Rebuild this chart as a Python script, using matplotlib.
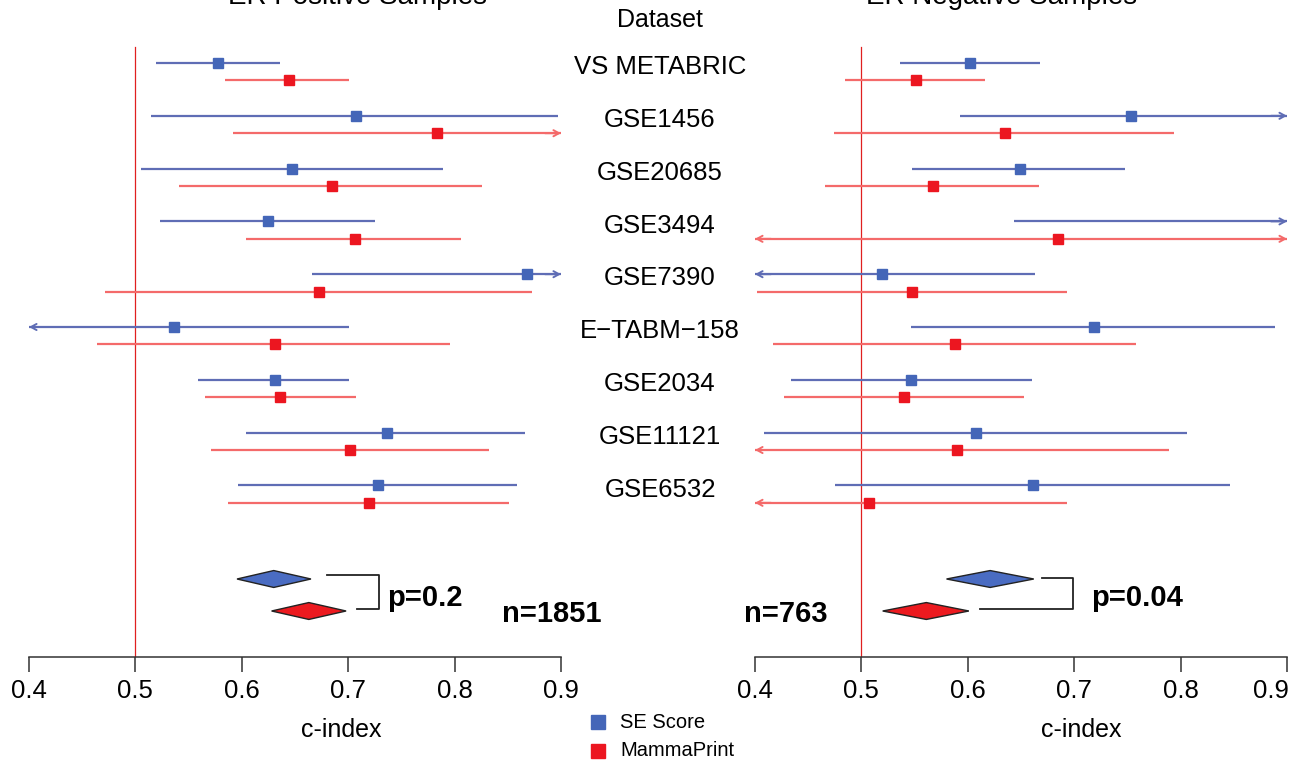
import numpy as np
import matplotlib
matplotlib.use("Agg")
import matplotlib.pyplot as plt
from matplotlib.patches import Polygon
from matplotlib.lines import Line2D
import matplotlib.transforms as mtransforms

plt.rcParams["font.family"] = ["Liberation Sans", "DejaVu Sans"]

# ---- data (c-index, lower / upper 95% CI) ----
datasets = ["VS METABRIC", "GSE1456", "GSE20685", "GSE3494", "GSE7390",
            "E\u2212TABM\u2212158", "GSE2034", "GSE11121", "GSE6532"]

# ER positive
pos_se_est = [0.578, 0.707, 0.647, 0.625, 0.868, 0.536, 0.631, 0.736, 0.728]
pos_se_lo = [0.519, 0.515, 0.505, 0.523, 0.666, 0.38, 0.559, 0.604, 0.596]
pos_se_hi = [0.636, 0.897, 0.789, 0.725, 0.93, 0.701, 0.701, 0.866, 0.859]
pos_mp_est = [0.644, 0.783, 0.685, 0.706, 0.673, 0.631, 0.636, 0.702, 0.720]
pos_mp_lo = [0.584, 0.592, 0.541, 0.604, 0.471, 0.464, 0.565, 0.571, 0.587]
pos_mp_hi = [0.701, 0.93, 0.826, 0.806, 0.873, 0.796, 0.707, 0.832, 0.851]

# ER negative
neg_se_est = [0.602, 0.753, 0.649, 0.91, 0.519, 0.719, 0.547, 0.608, 0.661]
neg_se_lo = [0.536, 0.593, 0.548, 0.643, 0.38, 0.547, 0.434, 0.408, 0.475]
neg_se_hi = [0.668, 0.93, 0.748, 0.95, 0.663, 0.889, 0.660, 0.806, 0.846]
neg_mp_est = [0.551, 0.635, 0.567, 0.685, 0.548, 0.588, 0.540, 0.590, 0.507]
neg_mp_lo = [0.485, 0.474, 0.466, 0.38, 0.402, 0.417, 0.427, 0.38, 0.38]
neg_mp_hi = [0.616, 0.794, 0.667, 0.93, 0.693, 0.758, 0.653, 0.789, 0.693]

# pooled (diamonds): lower, estimate, upper
pos_pool_se = [0.5955, 0.630, 0.665]
pos_pool_mp = [0.628, 0.663, 0.698]
neg_pool_se = [0.580, 0.621, 0.662]
neg_pool_mp = [0.520, 0.561, 0.601]

pos_p, pos_n = "p=0.2", "n=1851"
neg_p, neg_n = "p=0.04", "n=763"

BLUE_LINE = "#5f6db5"
BLUE_PT = "#4466b8"
RED_LINE = "#f46a6a"
RED_PT = "#ec1620"
BLUE_DIA = "#4a6cc2"
RED_DIA = "#ec1a1f"

W, H = 1293, 763
fig = plt.figure(figsize=(W / 100, H / 100), dpi=100)


def px_to_y(py):
    # row layout: first blue row at 63 px, row step 52.8 px
    return (py - 63) / 52.8


def draw_ci(ax, y, lo, est, hi, lc, pc):
    lo_c, hi_c = max(lo, 0.4), min(hi, 0.9)
    ax.plot([lo_c, hi_c], [y, y], color=lc, lw=1.6, solid_capstyle="butt", zorder=2)
    arr = dict(arrowstyle="->,head_length=0.4,head_width=0.22", color=lc, lw=1.4,
               shrinkA=0, shrinkB=0)
    if hi > 0.9:
        ax.annotate("", xy=(0.9, y), xytext=(0.885, y), arrowprops=arr)
    if lo < 0.4:
        ax.annotate("", xy=(0.4, y), xytext=(0.415, y), arrowprops=arr)
    if 0.4 <= est <= 0.9:
        ax.plot(est, y, "s", color=pc, ms=7, mec=pc, zorder=3)


def diamond(ax, y, vals, color):
    lo, est, hi = vals
    h = 0.16
    ax.add_patch(Polygon([(lo, y), (est, y - h), (hi, y), (est, y + h)],
                         closed=True, fc=color, ec="#222222", lw=1.0, zorder=3))


def panel(x0_px, se, mp, pool_se, pool_mp, ptxt, ntxt, brk, ptxt_x, ntxt_x,
          title, title_x, cidx_x, last_shift):
    ax = fig.add_axes([x0_px / W, 106 / H, 532 / W, 657 / H])
    ax.set_xlim(0.4, 0.9)
    ax.set_ylim(px_to_y(657), px_to_y(0))
    for s in ["top", "left", "right"]:
        ax.spines[s].set_visible(False)
    ax.spines["bottom"].set_color("#333333")
    ax.spines["bottom"].set_linewidth(1.1)
    ax.set_yticks([])
    ax.set_xticks([0.4, 0.5, 0.6, 0.7, 0.8, 0.9])
    ax.set_xticklabels(["0.4", "0.5", "0.6", "0.7", "0.8", "0.9"])
    ax.tick_params(axis="x", direction="out", length=11, width=1.1, color="#333333",
                   labelsize=18.5, pad=5)
    ax.patch.set_alpha(0)
    if last_shift:
        lab = ax.get_xticklabels()[-1]
        lab.set_transform(lab.get_transform() +
                          mtransforms.ScaledTranslation(last_shift / 100, 0, fig.dpi_scale_trans))

    # reference line at 0.5
    ax.plot([0.5, 0.5], [px_to_y(47), px_to_y(657)], color="#e02020", lw=0.9, zorder=1)

    for i in range(len(datasets)):
        draw_ci(ax, i, se[1][i], se[0][i], se[2][i], BLUE_LINE, BLUE_PT)
        draw_ci(ax, i + 0.33, mp[1][i], mp[0][i], mp[2][i], RED_LINE, RED_PT)

    yb, yr = px_to_y(579), px_to_y(611)
    diamond(ax, yb, pool_se, BLUE_DIA)
    diamond(ax, yr, pool_mp, RED_DIA)

    # bracket
    (xa, xb, xc), (ya, yc) = brk
    ax.plot([xa, xc, xc, xb], [ya, ya, yc, yc], color="#222222", lw=1.3,
            clip_on=False, zorder=3)
    ax.text(ptxt_x, px_to_y(598), ptxt, fontsize=21, fontweight="bold",
            ha="left", va="center", clip_on=False)
    ax.text(ntxt_x, px_to_y(614), ntxt, fontsize=21, fontweight="bold",
            ha="left", va="center", clip_on=False)

    fig.text(cidx_x / W, 1 - 730 / H, "c-index", fontsize=18, ha="center", va="center")
    fig.text(title_x / W, 1 - 4 / H, title, fontsize=20, ha="center", va="baseline")
    return ax


def v(px, x0):
    return 0.4 + (px - x0) / 1064


L0, R0 = 29, 755
axl = panel(L0, (pos_se_est, pos_se_lo, pos_se_hi), (pos_mp_est, pos_mp_lo, pos_mp_hi),
            pos_pool_se, pos_pool_mp, pos_p, pos_n,
            ((v(327, L0), v(357, L0), v(379, L0)), (px_to_y(575), px_to_y(609))),
            v(387, L0), v(502, L0), "ER Positive Samples", 358, 341, 0)
axr = panel(R0, (neg_se_est, neg_se_lo, neg_se_hi), (neg_mp_est, neg_mp_lo, neg_mp_hi),
            neg_pool_se, neg_pool_mp, neg_p, neg_n,
            ((v(1042, R0), v(980, R0), v(1073, R0)), (px_to_y(578), px_to_y(609))),
            v(1091, R0), v(744, R0), "ER Negative Samples", 1002, 1081, -16)

# dataset labels between panels
tr = mtransforms.blended_transform_factory(fig.transFigure, axl.transData)
fig.text(660 / W, 1 - 20 / H, "Dataset", fontsize=18, ha="center", va="center")
for i, name in enumerate(datasets):
    axl.text(660 / W, i + 0.08, name, transform=tr, fontsize=18.5,
             ha="center", va="center", clip_on=False)

# legend
for yy, col, lab in [(722, BLUE_PT, "SE Score"), (751, RED_PT, "MammaPrint")]:
    fig.add_artist(Line2D([598 / W], [1 - yy / H], marker="s", ms=9.5, color=col,
                          mec=col, transform=fig.transFigure))
    fig.text(620 / W, 1 - yy / H, lab, fontsize=14.5, ha="left", va="center")

fig.savefig("out.png", dpi=100, facecolor="white")
